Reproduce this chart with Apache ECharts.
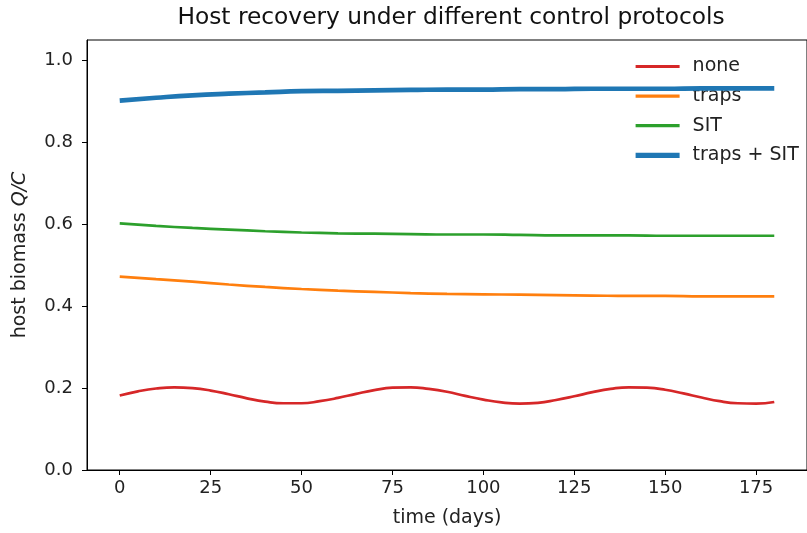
<!DOCTYPE html>
<html>
<head>
<meta charset="utf-8">
<script src="https://cdn.jsdelivr.net/npm/echarts@6/dist/echarts.min.js"></script>
<style>
  html, body { margin: 0; padding: 0; background: #fff; }
  #chart { width: 807px; height: 533px; }
</style>
</head>
<body>
<div id="chart"></div>
<script>
// values
var tFine = [0, 5, 10, 15, 20, 25, 30, 35, 40, 45, 50, 55, 60, 65, 70, 75, 80, 85, 90,
  95, 100, 105, 110, 115, 120, 125, 130, 135, 140, 145, 150, 155, 160, 165, 170, 175, 180];
var noneVals = [0.182, 0.192, 0.199, 0.202, 0.200, 0.194, 0.185, 0.175, 0.167, 0.163, 0.163,
  0.168, 0.176, 0.186, 0.195, 0.201, 0.202, 0.198, 0.191, 0.181, 0.172, 0.165, 0.162, 0.164,
  0.171, 0.180, 0.190, 0.198, 0.202, 0.201, 0.196, 0.187, 0.177, 0.168, 0.163, 0.162, 0.166];

var tCoarse = [0, 10, 20, 30, 40, 50, 60, 70, 80, 90, 100, 110, 120, 130, 140, 150, 160, 170, 180];
var trapsVals = [0.472, 0.466, 0.460, 0.453, 0.447, 0.442, 0.438, 0.435, 0.432, 0.430,
  0.429, 0.428, 0.427, 0.426, 0.425, 0.425, 0.424, 0.424, 0.424];
var sitVals = [0.602, 0.596, 0.591, 0.587, 0.583, 0.580, 0.578, 0.577, 0.576, 0.575,
  0.575, 0.574, 0.573, 0.573, 0.573, 0.572, 0.572, 0.572, 0.572];
var bothVals = [0.902, 0.909, 0.915, 0.919, 0.922, 0.925, 0.926, 0.927, 0.928, 0.929,
  0.929, 0.930, 0.930, 0.931, 0.931, 0.931, 0.932, 0.932, 0.932];

var xTicks = [0, 25, 50, 75, 100, 125, 150, 175];
var yTicks = [0, 0.2, 0.4, 0.6, 0.8, 1.0];

var seriesNames = ['none', 'traps', 'SIT', 'traps + SIT'];
var seriesColors = ['#d62728', '#ff7f0e', '#2ca02c', '#1f77b4'];
var seriesWidths = [2.7, 2.7, 2.7, 4.7];

function pairs(xs, ys) {
  var out = [];
  for (var i = 0; i < xs.length; i++) out.push([xs[i], ys[i]]);
  return out;
}

var myChart = echarts.init(document.getElementById('chart'));

function lineSeries(idx, xs, ys) {
  return {
    name: seriesNames[idx],
    type: 'line',
    smooth: true,
    symbol: 'none',
    data: pairs(xs, ys),
    color: seriesColors[idx],
    lineStyle: { color: seriesColors[idx], width: seriesWidths[idx] },
    z: 2 + idx
  };
}

var tickFont = { fontFamily: 'DejaVu Sans', fontSize: 18, color: '#222' };
var nameFont = { fontFamily: 'DejaVu Sans', fontSize: 19, color: '#222' };

var legendData = seriesNames.map(function (n, i) {
  return { name: n, lineStyle: { width: seriesWidths[i] + 0.5 } };
});

var option = {
  backgroundColor: '#fff',
  animation: false,
  graphic: [{
    type: 'text',
    x: 451, y: 18,
    style: {
      text: 'Host recovery under different control protocols',
      fontFamily: 'DejaVu Sans', fontSize: 23.3, fill: '#111',
      textAlign: 'center', textVerticalAlign: 'middle'
    }
  }],
  legend: {
    orient: 'vertical',
    left: 633, top: 57,
    padding: 0,
    itemWidth: 44, itemHeight: 14, itemGap: 10.6,
    itemStyle: { opacity: 0 },
    textStyle: { fontFamily: 'DejaVu Sans', fontSize: 19, color: '#222', padding: [0, 0, 0, 8] },
    data: legendData
  },
  grid: {
    show: true,
    left: 87, top: 40, width: 730, height: 430,
    borderColor: '#000', borderWidth: 1,
    backgroundColor: 'transparent'
  },
  xAxis: {
    type: 'value',
    min: -9, max: 189,
    name: 'time (days)',
    nameLocation: 'middle',
    nameGap: 39,
    nameTextStyle: nameFont,
    axisLine: { show: true, onZero: false, lineStyle: { color: '#000', width: 1 } },
    axisTick: { show: true, length: 5, customValues: xTicks, lineStyle: { color: '#000' } },
    axisLabel: Object.assign({ margin: 9, customValues: xTicks }, tickFont),
    splitLine: { show: false }
  },
  yAxis: {
    type: 'value',
    min: 0, max: 1.05,
    name: '{n|host biomass }{i|Q/C}',
    nameLocation: 'middle',
    nameRotate: 90,
    nameGap: 57,
    nameTextStyle: {
      rich: {
        n: nameFont,
        i: Object.assign({ fontStyle: 'italic' }, nameFont)
      }
    },
    axisLine: { show: true, onZero: false, lineStyle: { color: '#000', width: 1 } },
    axisTick: { show: true, length: 5, customValues: yTicks, lineStyle: { color: '#000' } },
    axisLabel: Object.assign({
      margin: 14, customValues: yTicks,
      formatter: function (v) { return v.toFixed(1); }
    }, tickFont),
    splitLine: { show: false }
  },
  series: [
    lineSeries(0, tFine, noneVals),
    lineSeries(1, tCoarse, trapsVals),
    lineSeries(2, tCoarse, sitVals),
    lineSeries(3, tCoarse, bothVals)
  ]
};

myChart.setOption(option);
</script>
</body>
</html>
